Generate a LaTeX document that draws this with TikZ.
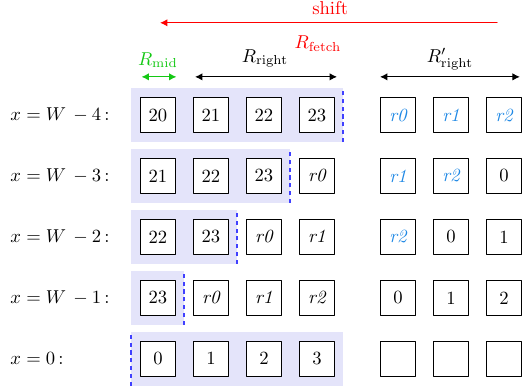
\documentclass[tikz,border=0pt]{standalone}
\usetikzlibrary{arrows.meta}

\definecolor{rblue}{RGB}{30,136,229}
\definecolor{shade}{RGB}{228,228,250}
\definecolor{mgreen}{RGB}{20,200,20}

\begin{document}
\begin{tikzpicture}[x=1cm,y=1cm, line cap=round, line join=round]

% ---------- styles ----------
\tikzset{
  cell/.style={draw, line width=0.6pt, minimum size=0.66cm, inner sep=0pt, fill=white},
  rold/.style={font=\itshape},
  rnew/.style={font=\itshape, text=rblue},
  plain/.style={},
  rowlab/.style={anchor=west, inner sep=0pt},
  fetch/.style={fill=shade},
  cut/.style={draw=blue!75, line width=1.1pt, line cap=butt, dash pattern=on 2.2pt off 2pt},
  dim/.style={line width=0.6pt, {Latex[length=4pt,width=4pt]}-{Latex[length=4pt,width=4pt]}},
  tag/.style={anchor=base, inner sep=0pt},
}

% ---------- canvas ----------
\useasboundingbox (-2.98,-5.15) rectangle (6.87,2.17);

% ---------- top annotations ----------
\coordinate (Se) at (6.40,1.74);
\coordinate (Sw) at (0.04,1.74);
\draw[red, line width=0.6pt, -{Latex[length=4pt,width=4pt]}] (Se) -- (Sw);
\node[tag, text=red] (shift) at (3.25,1.90) {shift};

\node[tag, text=red] (fetch) at (3.02,1.26) {$R_{\mathrm{fetch}}$};
\node[tag, text=mgreen] (mid) at (0,0.94) {$R_{\mathrm{mid}}$};
\node[tag] (right) at (2.02,1.00) {$R_{\mathrm{right}}$};
\node[tag] (rightp) at (5.51,1.00) {$R'_{\mathrm{right}}$};

\coordinate (Mw) at (-0.31,0.72);
\coordinate (Me) at ( 0.35,0.72);
\coordinate (Rw) at ( 0.70,0.72);
\coordinate (Re) at ( 3.38,0.72);
\coordinate (Pw) at ( 4.19,0.72);
\coordinate (Pe) at ( 6.83,0.72);
\draw[dim, draw=mgreen] (Mw) -- (Me);
\draw[dim] (Rw) -- (Re);
\draw[dim] (Pw) -- (Pe);

% ---------- row x = W-4 ----------
\node[rowlab] (lab1) at (-2.79,0) {$x = W\,- 4$\,:};
\fill[fetch] (-0.5,-0.51) rectangle (3.5,0.51);
\draw[cut] (3.5,-0.51) -- (3.5,0.51);
\foreach \v/\s [count=\i from 0] in {20/plain,21/plain,22/plain,23/plain}
  \node[cell,\s] (a1\i) at (\i,0) {\v};
\foreach \v/\s [count=\i from 0] in {r0/rnew,r1/rnew,r2/rnew}
  \node[cell,\s] (b1\i) at (4.53+\i,0) {\v};

% ---------- row x = W-3 ----------
\node[rowlab] (lab2) at (-2.79,-1.15) {$x = W\,- 3$\,:};
\fill[fetch] (-0.5,-1.66) rectangle (2.5,-0.64);
\draw[cut] (2.5,-1.66) -- (2.5,-0.64);
\foreach \v/\s [count=\i from 0] in {21/plain,22/plain,23/plain,r0/rold}
  \node[cell,\s] (a2\i) at (\i,-1.15) {\v};
\foreach \v/\s [count=\i from 0] in {r1/rnew,r2/rnew,0/plain}
  \node[cell,\s] (b2\i) at (4.53+\i,-1.15) {\v};

% ---------- row x = W-2 ----------
\node[rowlab] (lab3) at (-2.79,-2.30) {$x = W\,- 2$\,:};
\fill[fetch] (-0.5,-2.81) rectangle (1.5,-1.79);
\draw[cut] (1.5,-2.81) -- (1.5,-1.79);
\foreach \v/\s [count=\i from 0] in {22/plain,23/plain,r0/rold,r1/rold}
  \node[cell,\s] (a3\i) at (\i,-2.30) {\v};
\foreach \v/\s [count=\i from 0] in {r2/rnew,0/plain,1/plain}
  \node[cell,\s] (b3\i) at (4.53+\i,-2.30) {\v};

% ---------- row x = W-1 ----------
\node[rowlab] (lab4) at (-2.79,-3.45) {$x = W\,- 1$\,:};
\fill[fetch] (-0.5,-3.96) rectangle (0.5,-2.94);
\draw[cut] (0.5,-3.96) -- (0.5,-2.94);
\foreach \v/\s [count=\i from 0] in {23/plain,r0/rold,r1/rold,r2/rold}
  \node[cell,\s] (a4\i) at (\i,-3.45) {\v};
\foreach \v/\s [count=\i from 0] in {0/plain,1/plain,2/plain}
  \node[cell,\s] (b4\i) at (4.53+\i,-3.45) {\v};

% ---------- row x = 0 ----------
\node[rowlab] (lab5) at (-2.79,-4.60) {$x = 0$\,:};
\fill[fetch] (-0.5,-5.11) rectangle (3.5,-4.09);
\draw[cut] (-0.5,-5.11) -- (-0.5,-4.09);
\foreach \v/\s [count=\i from 0] in {0/plain,1/plain,2/plain,3/plain}
  \node[cell,\s] (a5\i) at (\i,-4.60) {\v};
\foreach \i in {0,1,2}
  \node[cell] (b5\i) at (4.53+\i,-4.60) {};

\end{tikzpicture}
\end{document}
